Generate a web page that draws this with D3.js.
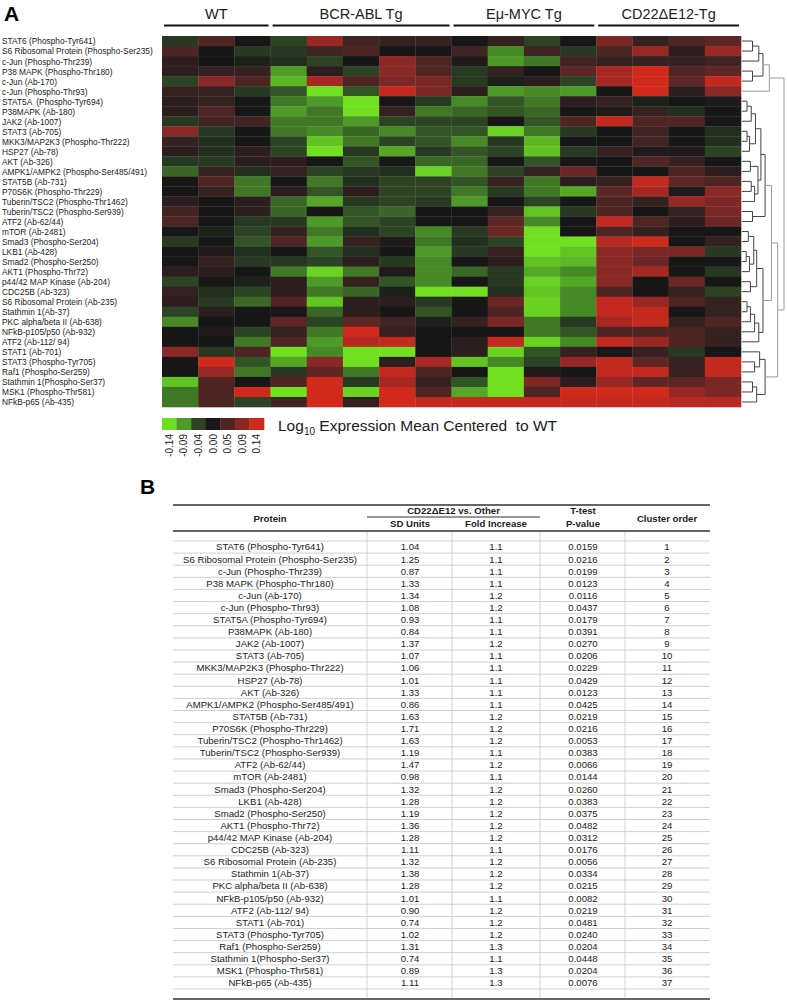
<!DOCTYPE html>
<html>
<head>
<meta charset="utf-8">
<script src="https://cdn.jsdelivr.net/npm/d3@7"></script>
<style>
  body { margin: 0; background: #fff; }
  svg { font-family: "Liberation Sans", Arial, sans-serif; }
</style>
</head>
<body>
<div id="fig"></div>
<script>
// ---- data ----
var rowLabels = [
  "STAT6 (Phospho-Tyr641)", "S6 Ribosomal Protein (Phospho-Ser235)", "c-Jun (Phospho-Thr239)",
  "P38 MAPK (Phospho-Thr180)", "c-Jun (Ab-170)", "c-Jun (Phospho-Thr93)", "STAT5A  (Phospho-Tyr694)",
  "P38MAPK (Ab-180)", "JAK2 (Ab-1007)", "STAT3 (Ab-705)", "MKK3/MAP2K3 (Phospho-Thr222)",
  "HSP27 (Ab-78)", "AKT (Ab-326)", "AMPK1/AMPK2 (Phospho-Ser485/491)", "STAT5B (Ab-731)",
  "P70S6K (Phospho-Thr229)", "Tuberin/TSC2 (Phospho-Thr1462)", "Tuberin/TSC2 (Phospho-Ser939)",
  "ATF2 (Ab-62/44)", "mTOR (Ab-2481)", "Smad3 (Phospho-Ser204)", "LKB1 (Ab-428)",
  "Smad2 (Phospho-Ser250)", "AKT1 (Phospho-Thr72)", "p44/42 MAP Kinase (Ab-204)", "CDC25B (Ab-323)",
  "S6 Ribosomal Protein (Ab-235)", "Stathmin 1(Ab-37)", "PKC alpha/beta II (Ab-638)",
  "NFkB-p105/p50 (Ab-932)", "ATF2 (Ab-112/ 94)", "STAT1 (Ab-701)", "STAT3 (Phospho-Tyr705)",
  "Raf1 (Phospho-Ser259)", "Stathmin 1(Phospho-Ser37)", "MSK1 (Phospho-Thr581)", "NFkB-p65 (Ab-435)"
];

var groups = ["WT", "BCR-ABL Tg", "E\u03bc-MYC Tg", "CD22\u0394E12-Tg"];
var groupSizes = [3, 5, 4, 4];

var wtVals = [
  [-0.03,0.05,0],[0.05,0,-0.03],[0.02,0,-0.01],[0.02,0.03,0.03],[-0.04,0.09,0.05],
  [0.03,0.03,-0.03],[0.02,0.03,0],[0.02,0.05,0],[-0.03,0.04,0.04],[0.09,-0.03,0],
  [0.03,-0.02,0],[0.02,-0.02,0.02],[-0.03,-0.03,0.02],[-0.06,0.03,-0.02],[0,0.05,-0.07],
  [0,0.03,-0.07],[0.02,0,0.02],[0.04,0,0.02],[0.05,0,-0.03],[0,-0.01,-0.04],
  [-0.03,0,-0.05],[0,0.01,-0.02],[0,0.03,-0.03],[0.02,0.02,0],[-0.04,0,-0.01],
  [0.03,-0.02,-0.04],[0.02,-0.03,-0.06],[-0.04,0.02,0],[-0.08,0,0],[0,0.01,-0.04],
  [0,0,-0.07],[0.09,-0.03,0.05],[0,0.14,-0.05],[0,0.10,-0.07],[-0.12,0.05,0],
  [-0.07,0.05,0.14],[-0.07,0.05,-0.04]
];
var bcrVals = [
  [-0.04,0.10,0.04,0.03,0.03],[-0.03,0.04,0.05,0,0],[-0.02,-0.04,0,0.09,0.05],
  [-0.09,0.02,-0.04,0.09,0.05],[-0.11,0.11,0.05,0.08,0.08],[-0.05,-0.14,-0.05,0.13,0.08],
  [-0.07,-0.09,-0.14,0,-0.03],[-0.09,-0.07,-0.14,0.03,-0.07],[-0.07,-0.07,-0.09,-0.04,-0.04],
  [-0.07,-0.08,-0.06,-0.08,-0.05],[-0.04,-0.12,-0.07,-0.04,-0.05],[-0.04,-0.14,-0.03,-0.10,-0.03],
  [0.02,0,-0.05,0,-0.06],[0.03,-0.04,-0.03,-0.02,-0.13],[0,-0.07,-0.02,-0.04,-0.04],
  [0.02,-0.05,0.02,-0.04,-0.04],[-0.06,-0.10,-0.03,-0.04,-0.03],[-0.06,0,-0.05,-0.06,0],
  [-0.03,-0.09,-0.05,-0.04,0],[0.03,-0.07,-0.02,-0.04,-0.08],[0.05,-0.09,0.03,0.01,-0.07],
  [0,-0.05,-0.02,0,-0.09],[-0.03,-0.04,0.02,-0.03,-0.08],[-0.07,-0.13,-0.07,0.01,-0.08],
  [0.02,-0.09,0.03,-0.05,-0.08],[0.02,-0.07,-0.06,-0.01,-0.14],[0.05,-0.12,0.02,0.02,-0.03],
  [0,-0.06,0.02,0,-0.05],[0.06,-0.04,0.06,0.04,-0.01],[0.03,-0.07,0.14,0.03,0],
  [0.05,-0.09,0.12,0.13,0],[-0.14,-0.08,-0.14,-0.14,0],[-0.10,0.09,-0.14,0.02,0.11],
  [-0.03,0.06,-0.07,0.13,0.05],[0.05,0.14,-0.03,0.11,0.03],[-0.14,0.14,-0.13,0.14,0.05],
  [0.04,0.14,0.03,0.14,0.13]
];
var mycVals = [
  [0,0.03,-0.04,0],[0.04,-0.08,0.04,-0.03],[0.01,-0.09,-0.07,0.04],[-0.03,0.03,0,0.06],
  [-0.03,-0.01,0.02,-0.04],[0.02,-0.09,-0.08,-0.09],[-0.08,-0.05,-0.07,0.02],[-0.06,-0.05,-0.06,0],
  [-0.04,0,-0.05,0.05],[-0.05,-0.13,-0.07,-0.03],[-0.08,-0.03,-0.11,0],[-0.05,-0.04,-0.12,-0.03],
  [-0.06,0,-0.05,0],[-0.07,-0.04,0.03,0.07],[-0.05,0.03,-0.07,0.02],[-0.07,-0.03,-0.07,-0.10],
  [-0.09,0,-0.04,0],[0,0.03,-0.12,-0.03],[0,0.06,-0.08,0],[-0.03,0.07,-0.14,0],
  [-0.02,-0.04,-0.14,-0.14],[-0.03,0.03,-0.14,-0.12],[0,0.02,-0.12,-0.11],[-0.06,-0.03,-0.10,-0.08],
  [0,-0.03,-0.13,-0.10],[-0.14,-0.02,-0.12,-0.08],[0,0.07,-0.13,-0.08],[0,0.05,-0.13,-0.08],
  [0.03,0.08,-0.07,-0.03],[0,0,-0.07,-0.05],[0.02,0.13,-0.13,-0.08],[0.02,-0.13,-0.05,0.03],
  [-0.12,-0.08,-0.04,0.10],[0,-0.14,0.01,0],[-0.05,-0.14,0.08,0.02],[-0.10,-0.14,0.05,0.14],
  [0.13,0.13,0.13,0.13]
];
var cd22Vals = [
  [0.08,0.03,0.05,0.06],[0.05,0.10,0.02,0.10],[0.03,0.03,0.03,0.04],[0.11,0.14,0.05,0.06],
  [0.11,0.14,0.06,0.13],[0,0.14,0.02,0.09],[0.03,-0.01,0,0.01],[0.01,0.03,-0.02,0],
  [0.13,0.05,0.05,0],[0,0.04,0,-0.02],[0,0.04,0,-0.02],[0.03,0.01,0.01,-0.04],
  [0,0.05,0.03,0],[0,0,0.05,0.02],[0.03,0.13,0.06,0.05],[0.06,0.11,0.01,0.09],
  [0.05,0.03,0.10,0.08],[0.05,0,0.03,0.08],[0.13,0.05,0.02,0.07],[0.05,0.03,0,0],
  [0.12,0.14,0,0.03],[0.09,0.08,0.08,-0.03],[0.09,0.07,0,0],[0.09,0.11,0,-0.03],
  [0.09,0,0.07,0],[0.05,0,0.03,-0.04],[0.13,0.10,0.05,0.03],[0.13,0.13,0,0.03],
  [0.11,0.13,0.03,0.05],[0.05,0.05,0.05,0.03],[0.13,0.10,0.05,0.03],[0,0.03,-0.03,0],
  [0.13,0.06,0.03,0.13],[0.13,0.13,0.03,0.13],[0.10,0.06,0.06,0.08],[0.14,0.14,0.10,0.08],
  [0.13,0.13,0.12,0.12]
];

var legendTicks = [-0.14, -0.09, -0.04, 0.00, 0.05, 0.09, 0.14];

// dendrogram merges: [left node, right node, height]; leaves are 0..36, new nodes 37..
var dendroMerges = [
  [0,1,0.25],[37,2,0.4],[3,4,0.25],[38,39,0.5],[40,5,0.65],
  [6,7,0.12],[42,8,0.22],[9,10,0.12],[44,11,0.18],[43,45,0.32],[12,13,0.2],[14,15,0.22],
  [48,16,0.3],[47,49,0.38],[46,50,0.45],[17,18,0.25],[51,52,0.55],
  [19,20,0.15],[21,22,0.1],[55,23,0.18],[54,56,0.28],[24,25,0.2],[57,58,0.35],[26,27,0.12],
  [60,28,0.2],[61,29,0.3],[62,30,0.4],[59,63,0.5],[53,64,0.7],
  [32,33,0.3],[31,66,0.42],[34,35,0.25],[68,36,0.35],[67,69,0.55],[65,70,0.85],[41,71,1.0]
];

// table B
var sdUnits = [1.04,1.25,0.87,1.33,1.34,1.08,0.93,0.84,1.37,1.07,1.06,1.01,1.33,0.86,1.63,1.71,1.63,1.19,1.47,
  0.98,1.32,1.28,1.19,1.36,1.28,1.11,1.32,1.38,1.28,1.01,0.90,0.74,1.02,1.31,0.74,0.89,1.11];
var foldIncrease = [1.1,1.1,1.1,1.1,1.2,1.2,1.1,1.1,1.2,1.1,1.1,1.1,1.1,1.1,1.2,1.2,1.2,1.1,1.2,
  1.1,1.2,1.2,1.2,1.2,1.2,1.1,1.2,1.2,1.2,1.1,1.2,1.2,1.2,1.3,1.1,1.3,1.3];
var pValues = ["0.0159","0.0216","0.0199","0.0123","0.0116","0.0437","0.0179","0.0391","0.0270","0.0206",
  "0.0229","0.0429","0.0123","0.0425","0.0219","0.0216","0.0053","0.0383","0.0066","0.0144","0.0260",
  "0.0383","0.0375","0.0482","0.0312","0.0176","0.0056","0.0334","0.0215","0.0082","0.0219","0.0481",
  "0.0240","0.0204","0.0448","0.0204","0.0076"];
var tableProteins = rowLabels.map(function(d) { return d.replace("  ", " "); });

// ---- svg ----
var W = 787, H = 1002;
var svg = d3.select("#fig").append("svg")
    .attr("width", W)
    .attr("height", H);

// ===== panel A =====
svg.append("text").attr("x", 4).attr("y", 21)
    .attr("font-size", 21).attr("font-weight", "bold").text("A");

var nCols = d3.sum(groupSizes);
var matrix = rowLabels.map(function(d, i) {
  return wtVals[i].concat(bcrVals[i], mycVals[i], cd22Vals[i]);
});

var x = d3.scaleBand().domain(d3.range(nCols)).range([162, 741]);
var y = d3.scaleBand().domain(d3.range(rowLabels.length)).range([36, 407]);

var color = d3.scaleLinear()
    .domain([-0.14, -0.09, -0.04, 0, 0.04, 0.09, 0.14])
    .range(["#70e020", "#4e9a28", "#2c4424", "#171717", "#402424", "#8a2826", "#d2291d"])
    .clamp(true);

// cells
var cells = [];
matrix.forEach(function(row, r) {
  row.forEach(function(v, c) { cells.push({r: r, c: c, v: v}); });
});
svg.append("g").selectAll("rect")
    .data(cells)
  .enter().append("rect")
    .attr("x", function(d) { return x(d.c); })
    .attr("y", function(d) { return y(d.r); })
    .attr("width", x.bandwidth() + 0.3)
    .attr("height", y.bandwidth() + 0.3)
    .attr("fill", function(d) { return color(d.v); });

// group headers
var start = 0;
groups.forEach(function(g, i) {
  var x0 = x(start), x1 = x(start + groupSizes[i] - 1) + x.bandwidth();
  svg.append("text")
      .attr("x", (x0 + x1) / 2).attr("y", 19)
      .attr("text-anchor", "middle")
      .attr("font-size", 14.5).attr("fill", "#222")
      .text(g);
  svg.append("line")
      .attr("x1", x0 + 2).attr("x2", x1 - 2)
      .attr("y1", 25.5).attr("y2", 25.5)
      .attr("stroke", "#111").attr("stroke-width", 2);
  start += groupSizes[i];
});

// row labels (the original font is narrower than Arial, so squeeze horizontally)
svg.append("g").selectAll("text")
    .data(rowLabels)
  .enter().append("text")
    .attr("transform", function(d, i) {
      return "translate(2," + (y(i) + y.bandwidth() / 2) + ") scale(0.85,1)";
    })
    .attr("dy", "0.35em")
    .attr("font-size", 9.8).attr("fill", "#222")
    .attr("xml:space", "preserve")
    .text(function(d) { return d; });

// dendrogram
var dx = d3.scaleLinear().domain([0, 1]).range([742, 784]);
var nodes = rowLabels.map(function(d, i) { return {y: y(i) + y.bandwidth() / 2, h: 0}; });
var dg = svg.append("g").attr("fill", "none").attr("stroke-width", 1);
dendroMerges.forEach(function(m) {
  var a = nodes[m[0]], b = nodes[m[1]];
  var n = {y: (a.y + b.y) / 2, h: m[2]};
  nodes.push(n);
  dg.append("path")
      .attr("d", "M" + dx(a.h) + "," + a.y + "H" + dx(n.h) + "V" + b.y + "H" + dx(b.h))
      .attr("stroke", m[2] > 0.6 ? "#9a9a9a" : "#444");
});

// legend
var lx = d3.scaleBand().domain(d3.range(legendTicks.length)).range([162, 264]);
svg.append("g").selectAll("rect")
    .data(legendTicks)
  .enter().append("rect")
    .attr("x", function(d, i) { return lx(i); })
    .attr("y", 418)
    .attr("width", lx.bandwidth() + 0.3)
    .attr("height", 12)
    .attr("fill", function(d) { return color(d); });
svg.append("g").selectAll("text")
    .data(legendTicks)
  .enter().append("text")
    .attr("transform", function(d, i) {
      return "translate(" + (lx(i) + lx.bandwidth() / 2) + ",434) rotate(-90)";
    })
    .attr("text-anchor", "end")
    .attr("dy", "0.35em")
    .attr("font-size", 10).attr("fill", "#222")
    .text(function(d) { return d.toFixed(2); });

var lt = svg.append("text").attr("x", 278).attr("y", 431)
    .attr("font-size", 15.5).attr("fill", "#222");
lt.append("tspan").text("Log");
lt.append("tspan").attr("font-size", 10).attr("dy", 4).text("10");
lt.append("tspan").attr("dy", -4).attr("xml:space", "preserve").text(" Expression Mean Centered  to WT");

// ===== panel B =====
svg.append("text").attr("x", 140).attr("y", 494)
    .attr("font-size", 21).attr("font-weight", "bold").text("B");

var tLeft = 173, tRight = 710;
var colDiv = [367, 452, 540, 625];
var colCenter = [270, 410, 496, 583, 667];
var hdrTop = 505, hdrBottom = 531, tBottom = 999;

var ty = d3.scaleBand().domain(d3.range(tableProteins.length)).range([541, 989]);

// body grid
var grid = svg.append("g").attr("stroke", "#c4c4c4").attr("stroke-width", 0.8);
d3.range(tableProteins.length + 1).forEach(function(i) {
  var yy = i < tableProteins.length ? ty(i) : ty(i - 1) + ty.bandwidth();
  grid.append("line").attr("x1", tLeft).attr("x2", tRight).attr("y1", yy).attr("y2", yy);
});
colDiv.forEach(function(cx) {
  grid.append("line").attr("x1", cx).attr("x2", cx).attr("y1", hdrBottom).attr("y2", tBottom);
});

// heavy rules
[hdrTop, hdrBottom, tBottom].forEach(function(yy) {
  svg.append("line").attr("x1", tLeft).attr("x2", tRight)
      .attr("y1", yy).attr("y2", yy)
      .attr("stroke", "#333").attr("stroke-width", 1.4);
});
svg.append("line").attr("x1", colDiv[0]).attr("x2", colDiv[2])
    .attr("y1", 517).attr("y2", 517)
    .attr("stroke", "#333").attr("stroke-width", 1);

// header text
var hdr = svg.append("g").attr("font-size", 9.6).attr("font-weight", "bold")
    .attr("text-anchor", "middle").attr("fill", "#222");
hdr.append("text").attr("x", colCenter[0]).attr("y", 522).text("Protein");
hdr.append("text").attr("x", (colDiv[0] + colDiv[2]) / 2).attr("y", 514).text("CD22\u0394E12 vs. Other");
hdr.append("text").attr("x", colCenter[1]).attr("y", 527).text("SD Units");
hdr.append("text").attr("x", colCenter[2]).attr("y", 527).text("Fold Increase");
hdr.append("text").attr("x", colCenter[3]).attr("y", 514).text("T-test");
hdr.append("text").attr("x", colCenter[3]).attr("y", 527).text("P-value");
hdr.append("text").attr("x", colCenter[4]).attr("y", 522).text("Cluster order");

// body text
var body = svg.append("g").attr("font-size", 9.6).attr("text-anchor", "middle").attr("fill", "#222");
tableProteins.forEach(function(p, i) {
  var yy = ty(i) + ty.bandwidth() / 2;
  var vals = [p, sdUnits[i].toFixed(2), foldIncrease[i].toFixed(1), pValues[i], String(i + 1)];
  vals.forEach(function(v, k) {
    body.append("text")
        .attr("x", colCenter[k]).attr("y", yy)
        .attr("dy", "0.35em")
        .text(v);
  });
});
</script>
</body>
</html>
